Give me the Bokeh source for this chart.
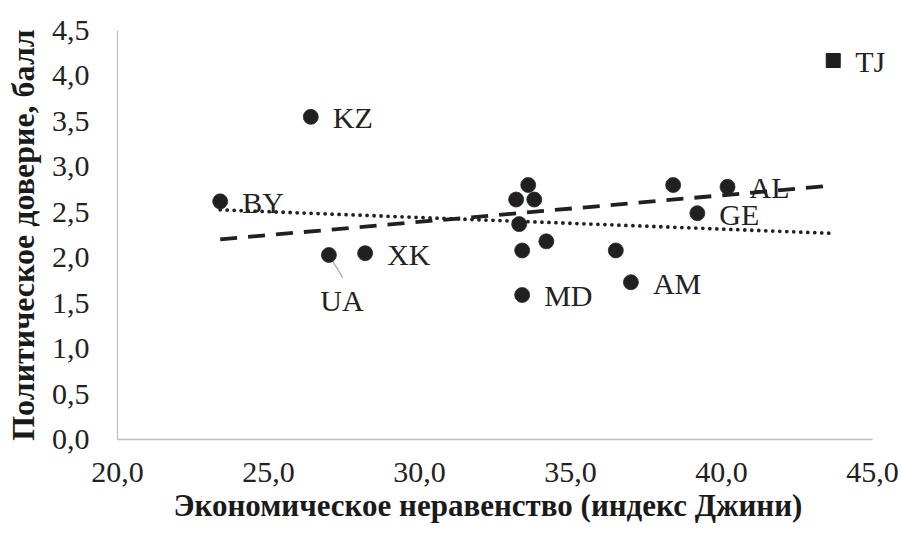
import numpy as np
from bokeh.plotting import figure
from bokeh.models import FixedTicker, ColumnDataSource, LabelSet, Title
from bokeh.core.properties import value
from bokeh.embed import file_html
from bokeh.resources import INLINE

# ---- data ----
countries = ["BY", "KZ", "UA", "XK", "", "", "", "", "", "", "MD", "", "AL", "GE", "", "AM"]
gini = [23.4, 26.4, 27.0, 28.2, 33.6, 33.2, 33.8, 33.3, 34.2, 33.4, 33.4, 38.4, 40.2, 39.2, 36.5, 37.0]
trust = [2.62, 3.55, 2.03, 2.05, 2.80, 2.64, 2.64, 2.37, 2.18, 2.08, 1.59, 2.80, 2.78, 2.49, 2.08, 1.73]

tj_name = ["TJ"]
tj_gini = [43.7]
tj_trust = [4.17]

x_ticks = [20, 25, 30, 35, 40, 45]
x_tick_labels = ["20,0", "25,0", "30,0", "35,0", "40,0", "45,0"]
y_ticks = [0, 0.5, 1, 1.5, 2, 2.5, 3, 3.5, 4, 4.5]
y_tick_labels = ["0,0", "0,5", "1,0", "1,5", "2,0", "2,5", "3,0", "3,5", "4,0", "4,5"]

x_title = "Экономическое неравенство (индекс Джини)"
y_title = "Политическое доверие, балл"

FONT = "Liberation Serif"
INK = "#231f20"

# frame: 117..900 px horizontally, axis (20..45) occupies 117..872
X_MIN, X_MAX = x_ticks[0], x_ticks[-1]
px_per_unit = 755 / (X_MAX - X_MIN)
x_end = X_MAX + 28 / px_per_unit

p = figure(width=902, height=537, x_range=(X_MIN, x_end), y_range=(0, 4.5),
           output_backend="svg", toolbar_location=None,
           min_border_left=117, min_border_right=2, min_border_top=30, min_border_bottom=98)
p.outline_line_color = None
p.xgrid.visible = False
p.ygrid.visible = False
p.background_fill_color = "white"

for ax, ticks, labels in ((p.xaxis[0], x_ticks, x_tick_labels), (p.yaxis[0], y_ticks, y_tick_labels)):
    ax.ticker = FixedTicker(ticks=ticks)
    ax.major_label_overrides = {t: l for t, l in zip(ticks, labels)}
    ax.axis_line_color = "#c0c0c0"
    ax.axis_line_width = 1.3
    ax.major_tick_line_color = None
    ax.minor_tick_line_color = None
    ax.major_tick_in = 0
    ax.major_tick_out = 0
    ax.minor_tick_in = 0
    ax.minor_tick_out = 0
    ax.major_label_text_font = FONT
    ax.major_label_text_font_size = "30px"
    ax.major_label_text_color = "#222222"
    ax.axis_label_text_font = FONT
    ax.axis_label_text_font_size = "32px"
    ax.axis_label_text_font_style = "bold"
    ax.axis_label_text_color = "#1a1a1a"

p.xaxis.bounds = (X_MIN, X_MAX)
p.yaxis.axis_label = y_title
p.xaxis.major_label_standoff = 23
p.yaxis.major_label_standoff = 28
p.yaxis.axis_label_standoff = 8

# x title placed under the 20..45 axis span (frame extends right for the TJ label)
p.add_layout(Title(text=x_title, align="left", offset=56, standoff=3,
                   text_font=FONT, text_font_size="31px", text_font_style="bold",
                   text_color="#1a1a1a"), "below")

# ---- trend lines (least squares) ----
all_x = np.array(gini + tj_gini)
all_y = np.array(trust + tj_trust)
xs = np.array([all_x.min(), all_x.max()])
k1, b1 = np.polyfit(all_x, all_y, 1)
k2, b2 = np.polyfit(np.array(gini), np.array(trust), 1)
p.line(xs, k1 * xs + b1, line_color=INK, line_width=3.8, line_dash="17 11")
p.line(xs, k2 * xs + b2, line_color=INK, line_width=3.8, line_dash="0 7", line_cap="round")

# ---- UA leader line ----
ua = countries.index("UA")
p.segment(x0=[gini[ua]], y0=[trust[ua]], x1=[gini[ua] + 0.46], y1=[trust[ua] - 0.25],
          line_color="#a6a6a6", line_width=1.3)

# ---- points ----
src = ColumnDataSource(dict(x=gini, y=trust, name=countries))
p.scatter("x", "y", source=src, size=15, marker="circle", fill_color=INK, line_color="#1f2e2a", line_width=0.8)
p.scatter(tj_gini, tj_trust, size=14, marker="square", fill_color=INK, line_color=INK)

# ---- labels ----
rx, ry, rn = [], [], []
for n, gx, gy in zip(countries + tj_name, gini + tj_gini, trust + tj_trust):
    if n and n != "UA":
        rx.append(gx); ry.append(gy); rn.append(n)
lab_src = ColumnDataSource(dict(x=rx, y=ry, name=rn))
p.add_layout(LabelSet(x="x", y="y", text="name", source=lab_src, x_offset=22, y_offset=-1,
                      text_font=value(FONT), text_font_size="30px", text_color="#222222",
                      text_baseline="middle", text_align="left"))
ua_src = ColumnDataSource(dict(x=[gini[ua]], y=[trust[ua]], name=["UA"]))
p.add_layout(LabelSet(x="x", y="y", text="name", source=ua_src, x_offset=13, y_offset=-46,
                      text_font=value(FONT), text_font_size="30px", text_color="#222222",
                      text_baseline="middle", text_align="center"))

open("out.html", "w").write(file_html(p, INLINE))
